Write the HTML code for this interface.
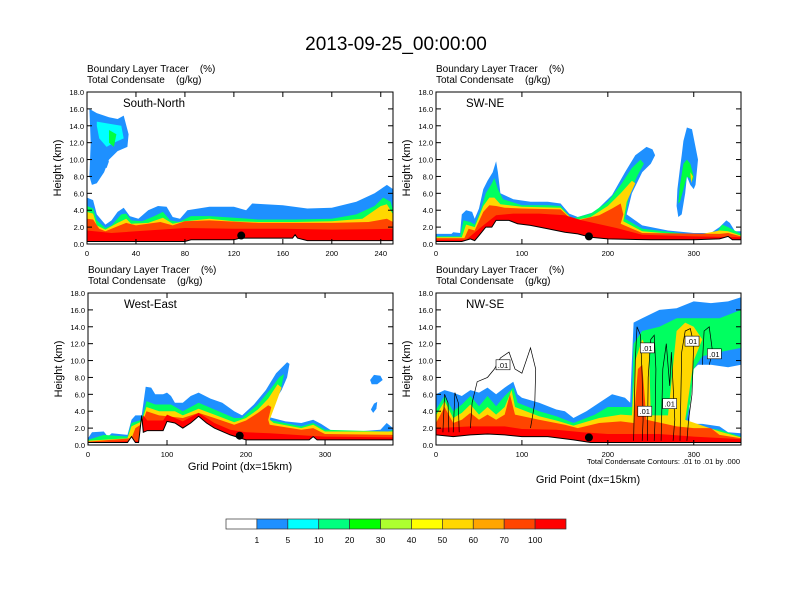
<!DOCTYPE html>
<html><head><meta charset="utf-8"><style>
body{margin:0;background:#fff;}
svg{display:block;font-family:"Liberation Sans",sans-serif;}
text{white-space:pre;}
</style></head><body>
<svg id="fig" width="792" height="612" viewBox="0 0 792 612" xmlns="http://www.w3.org/2000/svg" xml:space="preserve">
<rect width="792" height="612" fill="#fff"/>
<text x="396" y="50" font-size="19" text-anchor="middle">2013-09-25_00:00:00</text>
<g id="panels"></g>
<g id="colorbar"></g>
<text x="240" y="470" font-size="11" text-anchor="middle">Grid Point (dx=15km)</text>
<text x="588" y="483" font-size="11" text-anchor="middle">Grid Point (dx=15km)</text>
<text x="740" y="464" font-size="7.5" text-anchor="end">Total Condensate Contours: .01 to .01 by .000</text>
</svg>
<script>
// ---- colour bar data ----
const cbLabels = ["1","5","10","20","30","40","50","60","70","100"];
const cbColors = ["#ffffff","#1e90ff","#00ffff","#00ff7f","#00ff00","#adff2f","#ffff00","#ffd700","#ffa500","#ff4500","#ff0000"];
const levelColors = ["#1e90ff","#00ff60","#ffd700","#ff4500","#ff0000"];
const blobColors = {blue:"#1e90ff",cyan:"#00ffff",green:"#00ff40",yellow:"#ffd700"};
const yTicks = [0,2,4,6,8,10,12,14,16,18];

// ---- panel 1: South-North ----
const p1Terrain = [[0,0.3],[80,0.3],[85,0.5],[120,0.5],[125,0.7],[168,0.7],[170,1.1],[172,0.7],[180,0.4],[250,0.4]];
const p1Blue = [[0,5.5],[5,5.2],[8,3.5],[15,2.3],[20,2.8],[25,3.8],[30,4.3],[35,3.3],[42,3.0],[50,4.0],[58,4.5],[65,4.4],[70,3.2],[76,3.0],[82,4.0],[100,4.4],[120,4.4],[130,4.0],[135,4.8],[160,4.6],[180,4.2],[200,4.3],[220,5.0],[235,6.0],[245,7.0],[250,6.5]];
const p1Green = [[0,4.5],[5,4.2],[8,2.8],[15,1.9],[20,2.2],[28,3.5],[32,3.6],[36,2.8],[45,2.7],[55,3.3],[62,3.8],[68,2.8],[75,2.6],[85,3.3],[100,3.3],[120,3.1],[140,2.9],[170,2.9],[200,3.0],[220,3.5],[235,4.5],[242,5.5],[248,5.0],[250,4.0]];
const p1Yellow = [[0,3.8],[5,3.6],[8,2.2],[15,1.7],[25,2.5],[32,3.0],[36,2.4],[50,2.5],[62,3.1],[70,2.4],[80,2.7],[100,3.0],[120,2.7],[140,2.6],[170,2.6],[200,2.7],[225,3.0],[240,4.5],[245,4.7],[250,3.5]];
const p1Orange = [[0,3.0],[5,2.9],[10,1.8],[15,1.5],[25,2.1],[32,2.5],[40,2.2],[60,2.6],[70,2.2],[80,2.7],[100,2.8],[140,2.5],[200,2.5],[230,2.6],[245,3.0],[250,2.6]];
const p1Red = [[0,1.6],[20,1.3],[40,1.5],[80,1.9],[120,1.8],[160,1.8],[200,1.7],[250,1.8]];
const p1Blobs = [
 ["blue",[[2,16],[8,15.5],[18,15],[25,14.8],[30,15.2],[34,13],[33,11.5],[25,11],[18,10],[14,8.5],[8,7.2],[4,7],[2,8],[3,12]]],
 ["cyan",[[8,14.5],[20,14.2],[28,14],[30,12.5],[22,12],[16,11.5],[10,12.5],[8,14]]],
 ["green",[[18,13.5],[24,13],[22,11.5],[18,12]]],
 ["blue",[[12,10],[18,9.8],[16,9],[11,9.2]]]
];
const p1Dot = [126,1.0];

// ---- panel 2: SW-NE ----
const p2Terrain = [[0,0.3],[30,0.3],[40,0.6],[45,0.4],[50,1.0],[58,2.0],[65,2.0],[70,2.8],[85,2.8],[95,2.4],[110,2.2],[130,1.8],[150,1.4],[165,1.2],[180,0.8],[200,0.6],[250,0.5],[300,0.5],[330,0.6],[340,0.9],[345,0.5],[355,0.5]];
const p2Blue = [[0,1.2],[18,1.2],[20,1.4],[28,1.3],[30,3.5],[35,4.0],[42,3.8],[45,3.0],[50,4.2],[55,6.5],[60,7.5],[66,8.5],[70,9.8],[72,8.5],[75,6.0],[90,5.3],[110,5.0],[130,5.0],[145,4.8],[155,3.6],[165,3.2],[185,3.8],[205,5.8],[220,8.5],[232,10.5],[245,11.5],[252,11.2],[255,10.5],[250,9.5],[240,8.5],[228,6.0],[222,3.5],[240,2.2],[270,1.6],[300,1.3],[320,1.3],[330,2.0],[338,2.8],[342,2.5],[348,1.5],[355,1.5]];
const p2Green = [[0,0.9],[28,0.9],[32,2.8],[40,2.6],[45,2.3],[52,4.0],[58,6.0],[64,7.0],[68,7.8],[72,6.5],[78,5.3],[100,4.6],[130,4.6],[145,4.5],[158,3.0],[180,3.6],[200,5.0],[215,7.0],[228,9.0],[238,10.0],[242,9.5],[235,8.2],[225,6.0],[220,3.0],[240,1.8],[300,1.1],[325,1.1],[333,2.3],[340,2.0],[355,1.2]];
const p2Yellow = [[0,0.8],[30,0.8],[35,2.3],[45,2.0],[55,4.5],[62,5.5],[68,5.5],[75,4.7],[100,4.4],[145,4.3],[160,2.8],[180,3.2],[200,4.5],[215,6.0],[228,7.5],[232,7.2],[222,5.0],[218,2.7],[240,1.5],[300,1.0],[330,1.6],[340,1.5],[355,1.0]];
const p2Orange = [[0,0.7],[33,0.7],[38,1.8],[45,1.6],[55,3.8],[62,4.6],[70,4.5],[80,4.3],[100,4.2],[145,4.1],[160,2.7],[190,3.4],[205,4.2],[215,4.8],[218,3.5],[215,2.4],[240,1.3],[330,1.2],[340,1.3],[355,0.9]];
const p2Red = [[0,0.5],[35,0.5],[55,2.2],[70,3.4],[90,3.6],[120,3.6],[150,3.4],[170,2.8],[210,1.9],[240,1.1],[300,0.9],[355,0.8]];
const p2Blobs = [
 ["blue",[[288,12.2],[292,13.8],[298,13.6],[302,11.5],[305,10],[302,7],[300,6.5],[296,7],[292,8],[290,6],[286,3.5],[282,3.2],[280,4.5],[281,6.5],[284,9],[286,10.5]]],
 ["green",[[288,9.5],[292,10],[296,9.5],[300,8],[299,7.5],[292,8],[284,5],[282,4.8],[284,7]]],
 ["yellow",[[296,8.5],[299,8],[297,7.2]]]
];
const p2Dot = [178,0.9];

// ---- panel 3: West-East ----
const p3Terrain = [[0,0.3],[50,0.3],[55,1.0],[60,0.3],[64,0.3],[68,3.5],[70,1.5],[75,1.7],[95,1.7],[100,2.8],[110,2.6],[120,2.0],[130,2.6],[140,3.4],[150,2.6],[160,2.0],[180,1.2],[200,0.6],[280,0.6],[285,1.0],[290,0.6],[386,0.6]];
const p3Blue = [[0,0.8],[5,1.5],[20,1.6],[25,1.0],[30,1.4],[50,1.2],[55,3.0],[60,3.5],[68,3.5],[73,6.9],[80,6.8],[85,6.0],[95,6.0],[100,6.2],[105,5.8],[110,5.0],[120,5.0],[130,5.8],[140,6.2],[155,5.5],[170,5.0],[185,4.0],[195,3.5],[210,4.8],[225,6.5],[238,8.5],[252,9.8],[255,9.6],[252,8],[245,6.5],[235,5.0],[225,3.4],[250,2.8],[270,2.6],[285,3.0],[295,2.5],[310,1.6],[340,1.6],[370,1.8],[378,2.6],[386,2.0]];
const p3Green = [[0,0.6],[20,1.2],[50,1.0],[55,2.6],[68,3.0],[74,5.2],[85,4.8],[95,4.8],[105,4.8],[120,4.0],[140,5.0],[160,4.2],[185,3.2],[195,3.2],[215,4.8],[230,6.5],[242,8.0],[248,8.4],[245,7.0],[238,5.6],[228,3.0],[270,2.2],[285,2.6],[300,1.8],[380,1.6],[386,1.8]];
const p3Yellow = [[0,0.5],[50,0.8],[55,2.2],[68,2.8],[74,4.5],[90,4.0],[110,4.0],[120,3.5],[140,4.3],[160,3.6],[185,2.7],[200,3.2],[215,4.2],[228,5.5],[240,7.2],[245,6.8],[238,5.0],[230,3.0],[235,2.6],[270,2.0],[285,2.4],[300,1.6],[386,1.6]];
const p3Orange = [[0,0.4],[55,0.8],[60,2.0],[68,2.5],[74,4.0],[90,3.5],[120,3.2],[140,3.8],[160,3.2],[185,2.4],[200,2.9],[215,3.8],[228,4.7],[232,4.5],[228,3.0],[230,2.4],[270,1.8],[285,2.0],[300,1.3],[386,1.2]];
const p3Red = [[0,0.3],[64,0.5],[70,3.5],[75,2.9],[95,2.9],[100,3.6],[120,2.8],[140,3.8],[160,2.6],[180,1.8],[200,1.5],[230,1.4],[280,1.1],[300,1.0],[386,0.9]];
const p3Blobs = [
 ["blue",[[357,7.7],[362,8.3],[370,8.2],[373,7.7],[366,7.2],[359,7.2]]],
 ["blue",[[358,4.2],[362,4.9],[366,5.1],[365,4.3],[361,3.8]]]
];
const p3Dot = [192,1.1];

// ---- panel 4: NW-SE ----
const p4Terrain = [[0,1.2],[20,1.0],[40,1.2],[60,1.3],[80,1.2],[100,1.0],[130,1.0],[160,0.6],[180,0.3],[355,0.3]];
const p4Blue = [[0,6.0],[10,6.5],[20,6.2],[30,5.8],[40,6.5],[50,6.2],[60,6.8],[70,6.0],[80,6.8],[90,7.5],[95,6.0],[100,5.6],[120,5.0],[140,4.2],[150,4.0],[160,3.2],[175,4.0],[190,5.0],[205,6.0],[220,5.6],[226,5.0],[228,10],[230,14.5],[240,15],[260,16],[280,16.2],[300,17.0],[320,16.8],[340,17.0],[355,17.5],[355,9.5],[340,9.2],[320,9.5],[305,9.5],[300,9.0],[295,7.0],[295,2.5],[310,2.5],[330,2.2],[340,1.5],[355,1.4]];
const p4Green = [[0,4.2],[10,5.8],[20,4.0],[30,4.8],[40,5.8],[50,4.6],[60,5.8],[70,4.6],[80,5.8],[90,6.8],[95,5.0],[120,4.0],[140,3.4],[160,2.6],[185,3.6],[200,4.5],[220,4.5],[228,4.5],[230,12],[240,13.5],[260,14],[280,15],[300,15],[330,15],[355,16.0],[355,11.5],[330,11],[310,10.5],[300,9],[296,5],[290,2.5],[310,2.0],[330,1.8],[355,1.0]];
const p4Yellow = [[0,3.5],[10,5.2],[20,3.2],[30,3.8],[40,4.8],[50,3.6],[60,4.5],[70,3.6],[80,4.5],[88,6.5],[92,4.5],[120,3.4],[140,2.9],[160,2.3],[190,3.2],[215,3.6],[228,3.5],[232,10],[240,12.5],[248,11],[250,3.5],[270,3.5],[280,13.5],[290,14.5],[300,14],[310,12.5],[300,10],[290,3],[330,1.6],[355,0.9]];
const p4Orange = [[0,2.6],[10,4.5],[20,2.6],[30,3.0],[40,3.8],[50,3.0],[60,3.6],[70,3.0],[80,3.6],[86,6.0],[92,3.6],[120,3.0],[150,2.4],[165,2.0],[190,2.6],[215,2.8],[230,2.6],[235,9.0],[240,9.5],[245,3.0],[280,2.2],[300,2.0],[320,2.0],[330,1.2],[355,0.8]];
const p4Red = [[0,2.0],[40,2.2],[80,2.2],[100,1.9],[140,1.8],[170,1.5],[200,1.3],[230,1.3],[260,1.3],[300,1.0],[355,0.7]];
const p4Blobs = [];
const p4Contours = [
 [[40,2],[42,5],[48,7.5],[60,8],[68,9],[75,10.3],[85,11],[92,9],[100,8.5],[105,10],[110,11.5],[116,9],[115,5],[110,2]],
 [[8,1.5],[10,6],[14,5],[15,1.5]],
 [[20,1.5],[22,6.2],[26,5],[27,1.5]],
 [[230,0.5],[232,10],[234,14],[238,13],[240,8],[241,3],[240,0.5]],
 [[246,0.5],[247,8],[250,12.5],[254,13],[256,9],[255,3],[254,0.5]],
 [[262,0.5],[264,9],[268,12],[272,7],[274,11],[278,3],[276,0.5]],
 [[284,0.5],[286,11],[290,13.5],[296,13.8],[300,12],[298,6],[294,3],[292,0.5]],
 [[310,9.5],[312,13.5],[318,14],[322,11],[318,9.5]]
];
const p4Labels = [[78,9.5],[246,11.5],[298,12.3],[324,10.8],[243,4.0],[272,4.9]];
const p4Dot = [178,0.9];

const panels = [
 {name:"south-north",label:"South-North",x:87,y:92,w:306,h:152,xmax:250,xt:[0,40,80,120,160,200,240],terrain:p1Terrain,levels:[p1Blue,p1Green,p1Yellow,p1Orange,p1Red],blobs:p1Blobs,dot:p1Dot,contours:[],labels:[]},
 {name:"sw-ne",label:"SW-NE",x:436,y:92,w:305,h:152,xmax:355,xt:[0,100,200,300],terrain:p2Terrain,levels:[p2Blue,p2Green,p2Yellow,p2Orange,p2Red],blobs:p2Blobs,dot:p2Dot,contours:[],labels:[]},
 {name:"west-east",label:"West-East",x:88,y:293,w:305,h:152,xmax:386,xt:[0,100,200,300],terrain:p3Terrain,levels:[p3Blue,p3Green,p3Yellow,p3Orange,p3Red],blobs:p3Blobs,dot:p3Dot,contours:[],labels:[]},
 {name:"nw-se",label:"NW-SE",x:436,y:293,w:305,h:152,xmax:355,xt:[0,100,200,300],terrain:p4Terrain,levels:[p4Blue,p4Green,p4Yellow,p4Orange,p4Red],blobs:p4Blobs,dot:p4Dot,contours:p4Contours,labels:p4Labels}
];

const NS="http://www.w3.org/2000/svg";
function mk(tag,attrs,parent){const e=document.createElementNS(NS,tag);for(const k in attrs)e.setAttribute(k,attrs[k]);if(parent)parent.appendChild(e);return e;}
const root=document.getElementById("panels");

panels.forEach((p,pi)=>{
 const sx=v=>p.x+v/p.xmax*p.w;
 const sy=z=>p.y+p.h-z/18*p.h;
 const g=mk("g",{},root);
 
 
 const cid="clip"+pi;
 const cp=mk("clipPath",{id:cid},g);mk("rect",{x:p.x,y:p.y,width:p.w,height:p.h},cp);
 const t1=mk("text",{x:p.x,y:p.y-20,"font-size":"10"},g);t1.textContent="Boundary Layer Tracer    (%)";
 
 
 const t2=mk("text",{x:p.x,y:p.y-9,"font-size":"10"},g);t2.textContent="Total Condensate    (g/kg)";
 
 
 const plot=mk("g",{"clip-path":"url(#"+cid+")"},g);
 const poly=pts=>pts.map(q=>sx(q[0]).toFixed(1)+","+sy(q[1]).toFixed(1)).join(" ");
 p.levels.forEach((lv,li)=>{
  const pts=lv.concat([[lv[lv.length-1][0],0],[lv[0][0],0]]);
  const e=mk("polygon",{points:poly(pts),fill:levelColors[li]},plot);
  
  
 });
 p.blobs.forEach(b=>{
  const e=mk("polygon",{points:poly(b[1]),fill:blobColors[b[0]]},plot);
  
  
 });
 const ter=p.terrain.concat([[p.terrain[p.terrain.length-1][0],-1],[p.terrain[0][0],-1]]);
 const te=mk("polygon",{points:poly(ter),fill:"#fff"},plot);
 
 
 const tl=mk("polyline",{points:poly(p.terrain),fill:"none",stroke:"#000","stroke-width":"1"},plot);
 
 
 p.contours.forEach(c=>{
  const e=mk("polyline",{points:poly(c),fill:"none",stroke:"#000","stroke-width":"0.7"},plot);
  
  
 });
 p.labels.forEach(l=>{
  const lg=mk("g",{},plot);
  
  
  mk("rect",{x:sx(l[0])-7,y:sy(l[1])-5,width:14,height:10,fill:"#fff",stroke:"#000","stroke-width":"0.6"},lg);
  const tt=mk("text",{x:sx(l[0]),y:sy(l[1])+3,"font-size":"7.5","text-anchor":"middle"},lg);tt.textContent=".01";
 });
 const d=mk("circle",{cx:sx(p.dot[0]),cy:sy(p.dot[1]),r:4,fill:"#000"},plot);
 
 
 const fr=mk("rect",{x:p.x,y:p.y,width:p.w,height:p.h,fill:"none",stroke:"#000","stroke-width":"1"},g);
 
 
 const pl=mk("text",{x:p.x+(pi%2==0?36:30),y:p.y+15,"font-size":"11.5"},g);pl.textContent=p.label;
 
 
 yTicks.forEach(v=>{
  const y=sy(v);
  mk("line",{x1:p.x,x2:p.x+5,y1:y,y2:y,stroke:"#000","stroke-width":"1"},g);
  mk("line",{x1:p.x+p.w,x2:p.x+p.w-5,y1:y,y2:y,stroke:"#000","stroke-width":"1"},g);
  const t=mk("text",{x:p.x-3,y:y+3,"font-size":"7.5","text-anchor":"end"},g);t.textContent=v.toFixed(1);
  
  
 });
 p.xt.forEach(v=>{
  const x=sx(v);
  mk("line",{x1:x,x2:x,y1:p.y+p.h,y2:p.y+p.h-5,stroke:"#000","stroke-width":"1"},g);
  mk("line",{x1:x,x2:x,y1:p.y,y2:p.y+5,stroke:"#000","stroke-width":"1"},g);
  const t=mk("text",{x:x,y:p.y+p.h+12,"font-size":"7.5","text-anchor":"middle"},g);t.textContent=String(v);
  
  
 });
 const ya=mk("text",{x:0,y:0,"font-size":"11","text-anchor":"middle",transform:"translate("+(p.x-26)+","+(p.y+p.h/2)+") rotate(-90)"},g);ya.textContent="Height (km)";
 
 
});

// colour bar
const cb=document.getElementById("colorbar");
const cbx=226,cby=519,cbw=340,cbh=10,bw=cbw/cbColors.length;
cbColors.forEach((c,i)=>{
 const r=mk("rect",{x:cbx+i*bw,y:cby,width:bw,height:cbh,fill:c,stroke:"#333","stroke-width":"0.7"},cb);
 
 
});
cbLabels.forEach((l,i)=>{
 const t=mk("text",{x:cbx+(i+1)*bw,y:cby+24,"font-size":"8.5","text-anchor":"middle"},cb);t.textContent=l;
 
 
});
</script>
</body></html>
